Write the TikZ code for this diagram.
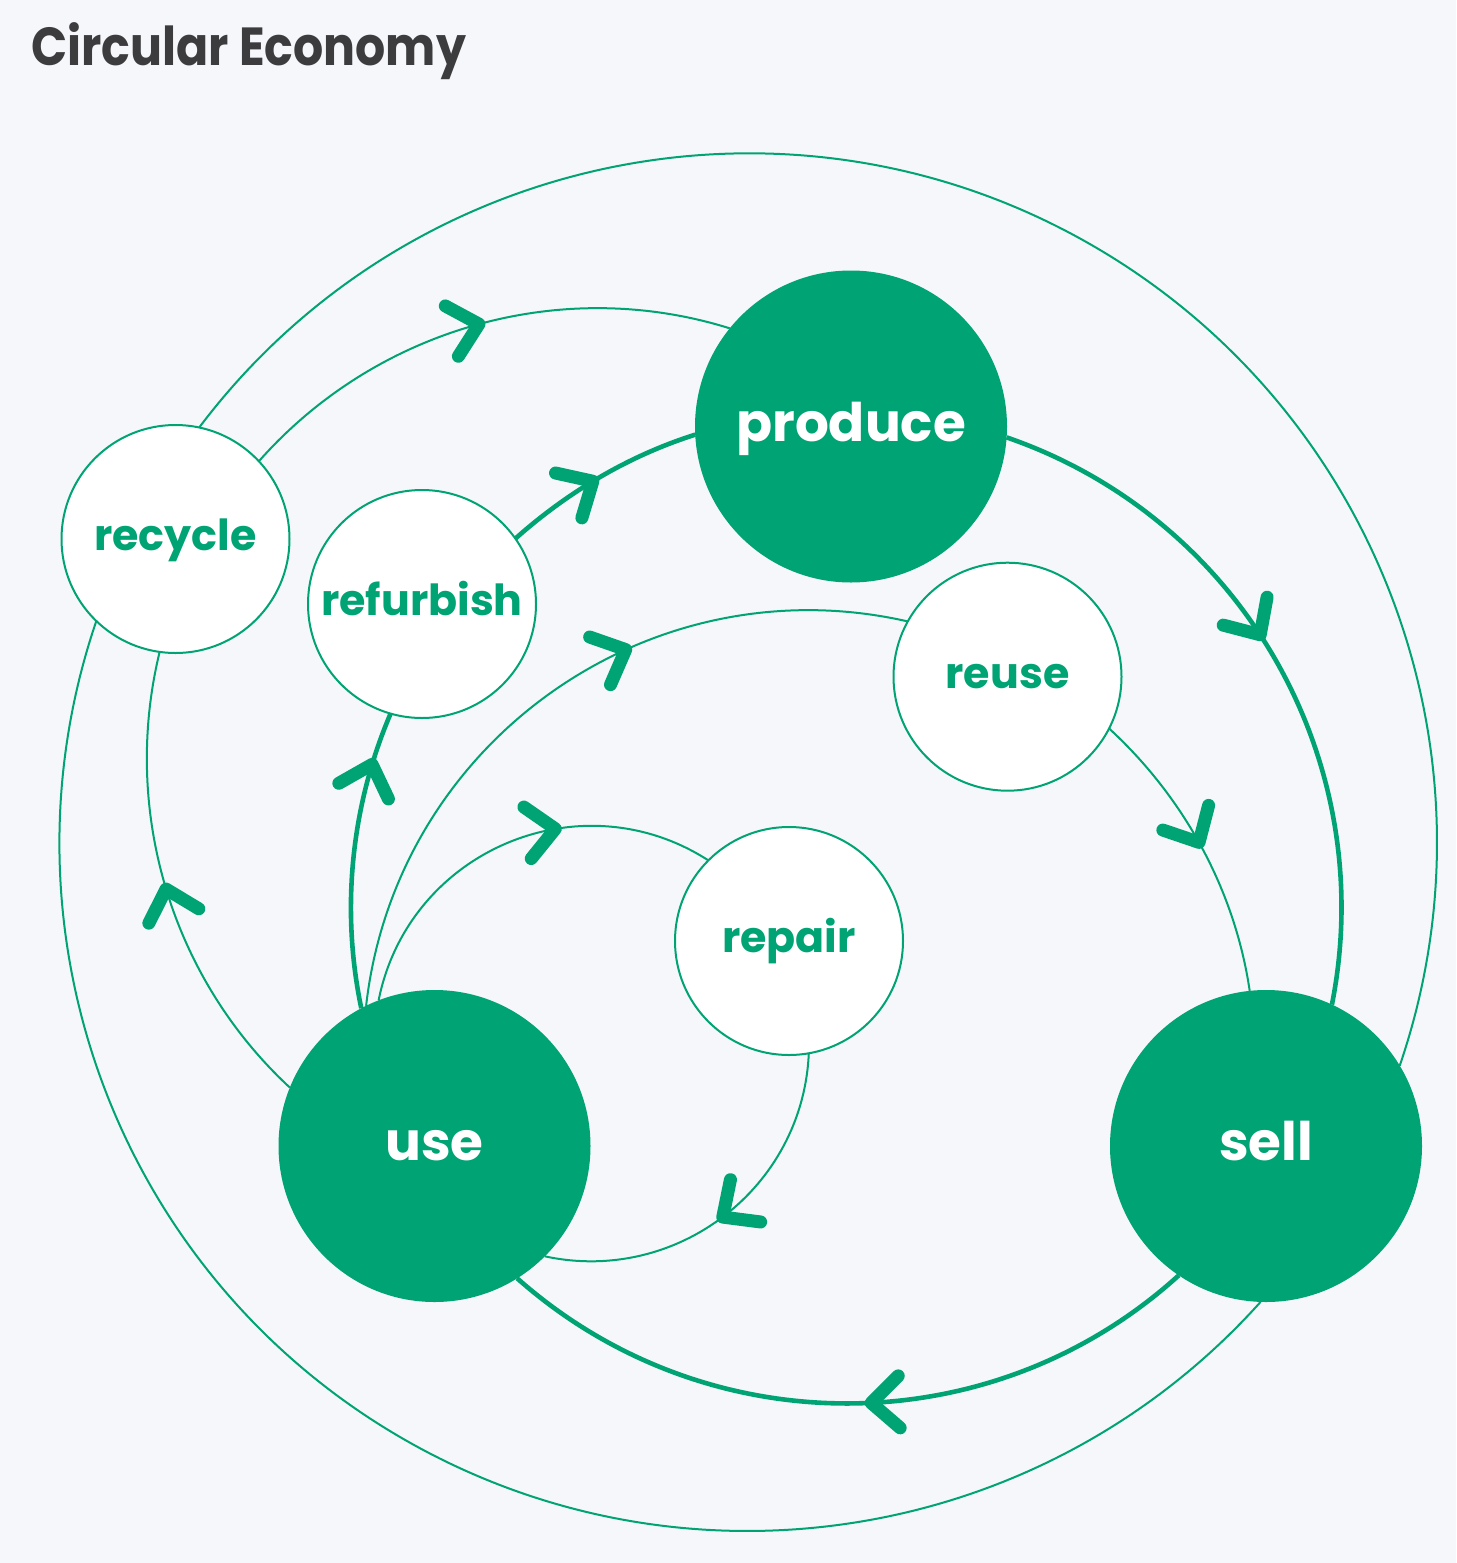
\documentclass[tikz,border=0pt]{standalone}
\usepackage{fontspec}
\setmainfont{Poppins}
\usepackage{xcolor}
\usepackage{graphicx}
\usetikzlibrary{decorations.markings,backgrounds}
\definecolor{colgreen}{HTML}{00A373}
\definecolor{colback}{HTML}{F5F7FA}
\definecolor{coltitle}{HTML}{3C3C3E}

\begin{document}
\begin{tikzpicture}[x=0.5pt, y=0.5pt,
		bignode/.style={circle, fill=colgreen, minimum size=156pt, inner sep=0pt, outer sep=0pt, text=white, font=\bfseries\fontsize{26.6pt}{28pt}\selectfont, text height=14.6pt, text depth=0pt},
		smallnode/.style={circle, draw=colgreen, line width=1pt, fill=white, minimum size=114pt, inner sep=0pt, outer sep=0pt, text=colgreen, font=\bfseries\fontsize{21.4pt}{23pt}\selectfont, text height=11.7pt, text depth=0pt},
		thinflow/.style={colgreen, line width=1pt},
		thickflow/.style={colgreen, line width=2.3pt},
		chev/.style={colgreen, line width=6.5pt, line cap=round, line join=round},
		arrowat/.style={postaction={decorate, decoration={markings, mark=at position #1 with {\draw[chev] (-34,26) -- (-6,0) -- (-34,-26);}}}},
	]
	\useasboundingbox (0,0) rectangle (1456,-1563);
	\node[anchor=base west, inner sep=0pt, text=coltitle, font=\bfseries\fontsize{26.8pt}{28pt}\selectfont] (title) at (31,-65) {\scalebox{0.885}[1]{Circular Economy}};

	\node[bignode] (produce) at (851,-426.5) {produce};
	\node[bignode] (sell) at (1266,-1146) {sell};
	\node[bignode] (use) at (434.5,-1146) {use};
	\node[smallnode] (recycle) at (175.5,-539) {recycle};
	\node[smallnode] (refurbish) at (422,-604) {refurbish};
	\node[smallnode] (reuse) at (1007.5,-676.7) {reuse};
	\node[smallnode] (repair) at (789,-941) {repair};
	\coordinate (otop) at (1070.4,-233.3);
	\coordinate (obot) at (399.5,-1436.7);

	\begin{scope}[on background layer]
		\fill[colback] (0,0) rectangle (1456,-1563);
		% outer ring
		\draw[thinflow] (recycle.78.8) to[out=53, in=152.05, looseness=0.967] (otop) to[out=-27.95, in=71.1, looseness=0.967] (sell.31.3);
		\draw[thinflow] (sell.-92) to[out=-131.9, in=-30.3, looseness=0.96] (obot) to[out=149.7, in=-108.8, looseness=0.96] (recycle.-134.8);
		% main loop
		\draw[thickflow, arrowat=0.467] (produce.-4.6) to[out=-19, in=78.8, looseness=0.971] (sell.65.2);
		\draw[thickflow, arrowat=0.477] (sell.-124.1) to[out=-137.75, in=-41.56, looseness=0.976] (use.-58.6);
		\draw[thickflow, arrowat=0.84] (use.118.75) to[out=101.76, in=246.88, looseness=0.871] (refurbish.-106.9);
		\draw[thickflow, arrowat=0.49] (refurbish.35.5) to[out=41.72, in=197.57, looseness=0.861] (produce.183.2);
		% recycle loop
		\draw[thinflow, arrowat=0.509] (use.158) to[out=137.19, in=256.31, looseness=0.915] (recycle.-98.4);
		\draw[thinflow, arrowat=0.52] (recycle.43.3) to[out=48.55, in=162.62, looseness=0.926] (produce.141.5);
		% reuse loop
		\draw[thinflow, arrowat=0.623] (use.116.1) to[out=83.52, in=167.12, looseness=1.022] (reuse.151.5);
		\draw[thinflow, arrowat=0.5] (reuse.-27) to[out=-42.62, in=98.41, looseness=0.876] (sell.96.55);
		% repair loop
		\draw[thinflow, arrowat=0.635] (use.111.9) to[out=78.69, in=147.21, looseness=1.09] (repair.135.2);
		\draw[thinflow, arrowat=0.52] (repair.-80.5) to[out=-92.49, in=-12.17, looseness=1.035] (use.-45.4);
	\end{scope}
\end{tikzpicture}
\end{document}
